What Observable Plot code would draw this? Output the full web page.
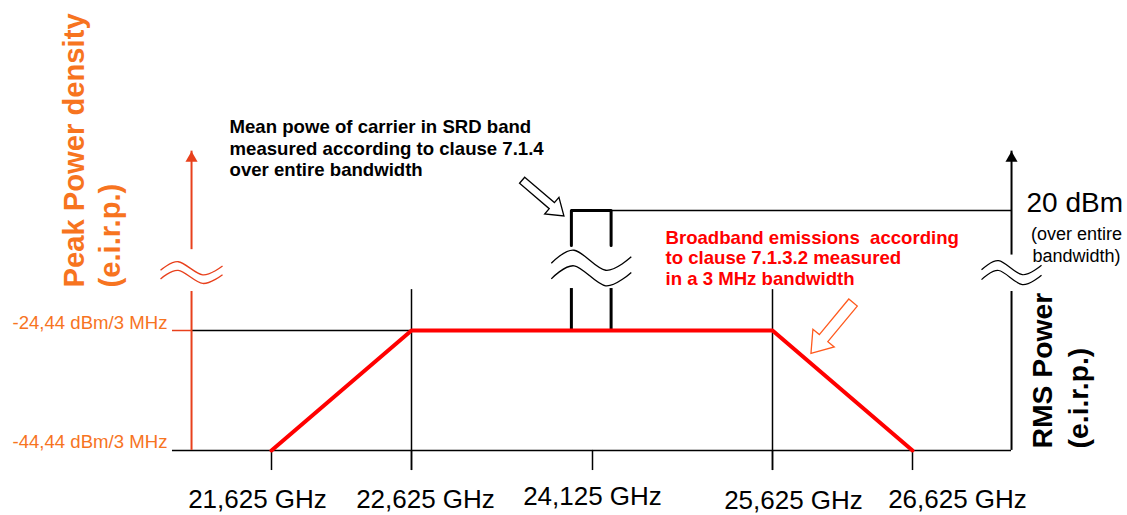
<!DOCTYPE html>
<html><head><meta charset="utf-8">
<script src="https://cdn.jsdelivr.net/npm/d3@7"></script>
<script src="https://cdn.jsdelivr.net/npm/@observablehq/plot@0.6"></script>
<style>html,body{margin:0;padding:0;background:#fff;} #chart svg{display:block}</style>
</head><body><div id="chart"></div>
<script>
// ---- data ----
const FREQ_TICKS = [21.625, 22.625, 24.125, 25.625, 26.625];
const FREQ_LABELS = ["21,625 GHz", "22,625 GHz", "24,125 GHz", "25,625 GHz", "26,625 GHz"];
const LEVEL_TICKS = [-44.44, -24.44];
const LEVEL_LABELS = ["-44,44 dBm/3 MHz", "-24,44 dBm/3 MHz"];
const EMISSION_F = [21.625, 22.625, 25.625, 26.625];
const EMISSION_LEVEL = [-44.44, -24.44, -24.44, -44.44];
const CARRIER_F = [23.95, 24.28];
const CARRIER_LEVEL = 20;
const CARRIER_LABEL = "20 dBm";
const CARRIER_NOTE = "(over entire\nbandwidth)";
const LEFT_TITLE = "Peak Power density\n(e.i.r.p.)";
const RIGHT_TITLE = "RMS Power\n(e.i.r.p.)";
const NOTE_CARRIER = "Mean powe of carrier in SRD band\nmeasured according to clause 7.1.4\nover entire bandwidth";
const NOTE_EMISSION = "Broadband emissions  according\nto clause 7.1.3.2 measured\nin a 3 MHz bandwidth";

// ---- schematic layout (data units) ----
const AXIS_L = 21.054, AXIS_R = 27.332, BASE_L = 20.918;
const BREAK_LO = -10, BREAK_HI_L = 5.5, BREAK_HI_R = 3.5, TOP = 42;
const TICK_BOTTOM = -47.8, GUIDE_TOP = -9.3;
const BOX_BREAK_LO = -8.9, BOX_BREAK_HI = 7;
const ORANGE_AXIS = "#e8401c", ORANGE_TEXT = "#f7741f", RED = "#ff0000", ARROW_ORANGE = "#ff5a1e";
const FONT = "'Liberation Sans', Arial, sans-serif";
const LOW = LEVEL_TICKS[0], HIGH = LEVEL_TICKS[1];

function waveSymbol(amp, gap) {
  const base = [[-1, 0.15], [-0.43, -0.5], [0.36, 0.5], [1, -0.17]];
  return {draw(ctx, size) {
    const r = Math.sqrt(size / Math.PI);
    for (const k of [-1, 1]) {
      const pts = base.map(([x, y]) => [x * r, (y * amp + k * gap / 2) * r]);
      d3.line().curve(d3.curveCardinal).context(ctx)(pts);
    }
  }};
}
function blockArrow(sw, hw, hl) {
  return {draw(ctx, size) {
    const r = Math.sqrt(size / Math.PI);
    const b = -r + hl * r;
    ctx.moveTo(-sw * r, r); ctx.lineTo(-sw * r, b); ctx.lineTo(-hw * r, b);
    ctx.lineTo(0, -r); ctx.lineTo(hw * r, b); ctx.lineTo(sw * r, b);
    ctx.lineTo(sw * r, r); ctx.closePath();
  }};
}

const emission = EMISSION_F.map((f, i) => ({f, level: EMISSION_LEVEL[i]}));
const [c1, c2] = CARRIER_F;
const one = [0];
const txt = {fontFamily: FONT};

const labelDx = [-14, 14, 0, 21, 45];
const labelDy = [58, 58, 55, 59, 58];

const marks = [
  // baseline and level lines
  Plot.ruleY([LOW], {x1: BASE_L, x2: AXIS_R, stroke: "black", strokeWidth: 1.5}),
  Plot.ruleY([HIGH], {x1: BASE_L, x2: AXIS_L, stroke: ORANGE_AXIS, strokeWidth: 1.5}),
  Plot.ruleY([HIGH], {x1: AXIS_L, x2: EMISSION_F[1], stroke: "black", strokeWidth: 1.5}),
  // frequency ticks
  Plot.ruleX(FREQ_TICKS, {y1: LOW, y2: TICK_BOTTOM, stroke: "black", strokeWidth: 1.5}),
  Plot.ruleX([EMISSION_F[1], EMISSION_F[2]], {y1: TICK_BOTTOM, y2: GUIDE_TOP, stroke: "black", strokeWidth: 1.5}),
  // left axis
  Plot.ruleX([AXIS_L], {y1: LOW, y2: BREAK_LO, stroke: ORANGE_AXIS, strokeWidth: 2}),
  Plot.ruleX([AXIS_L], {y1: BREAK_HI_L, y2: TOP, stroke: ORANGE_AXIS, strokeWidth: 2}),
  Plot.dot(one, {x: () => AXIS_L, y: () => TOP, dy: 7, r: 4.5, symbol: "triangle", fill: ORANGE_AXIS, stroke: "none"}),
  Plot.dot(one, {x: () => AXIS_L, y: () => -3, r: 31, symbol: waveSymbol(0.42, 0.28), fill: "none", stroke: ORANGE_AXIS, strokeWidth: 1.3}),
  // right axis
  Plot.ruleX([AXIS_R], {y1: LOW, y2: BREAK_LO, stroke: "black", strokeWidth: 2}),
  Plot.ruleX([AXIS_R], {y1: BREAK_HI_R, y2: TOP, stroke: "black", strokeWidth: 2}),
  Plot.dot(one, {x: () => AXIS_R, y: () => TOP, dy: 7, r: 4.5, symbol: "triangle", fill: "black", stroke: "none"}),
  Plot.dot(one, {x: () => AXIS_R, y: () => -3, r: 30, symbol: waveSymbol(0.47, 0.33), fill: "none", stroke: "black", strokeWidth: 1.2}),
  // carrier
  Plot.ruleY([CARRIER_LEVEL], {x1: c2, x2: AXIS_R, stroke: "black", strokeWidth: 1.6}),
  Plot.line([[c1, BOX_BREAK_HI], [c1, CARRIER_LEVEL], [c2, CARRIER_LEVEL], [c2, BOX_BREAK_HI]], {stroke: "black", strokeWidth: 3}),
  Plot.ruleX(CARRIER_F, {y1: HIGH, y2: BOX_BREAK_LO, stroke: "black", strokeWidth: 3}),
  Plot.dot(one, {x: () => (c1 + c2) / 2, y: () => -1.3, r: 40, symbol: waveSymbol(0.5, 0.39), fill: "none", stroke: "black", strokeWidth: 1.3}),
  // emission mask
  Plot.line(emission, {x: "f", y: "level", stroke: RED, strokeWidth: 4}),
  // block arrows
  Plot.dot(one, {x: () => 23.715, y: () => 24.6, r: 27.5, rotate: 130.5, symbol: blockArrow(0.145, 0.4, 0.58), fill: "white", stroke: "black", strokeWidth: 1.3}),
  Plot.dot(one, {x: () => 26.05, y: () => -23.5, r: 33, rotate: 219.6, symbol: blockArrow(0.167, 0.42, 0.6), fill: "white", stroke: ARROW_ORANGE, strokeWidth: 1.3}),
  // frequency labels
  ...FREQ_TICKS.map((v, i) => Plot.text([FREQ_LABELS[i]], {x: () => v, y: () => LOW, text: d => d, dx: labelDx[i], dy: labelDy[i], lineAnchor: "bottom", textAnchor: "middle", fontSize: 26, fill: "black", ...txt})),
  // level labels
  Plot.text(LEVEL_TICKS, {x: () => BASE_L, y: d => d, text: (d, i) => LEVEL_LABELS[i], textAnchor: "end", lineAnchor: "bottom", dx: -5, dy: -2, fontSize: 18.6, fill: ORANGE_TEXT, ...txt}),
  // axis titles
  Plot.text([LEFT_TITLE], {x: () => AXIS_L, y: () => HIGH, text: d => d, rotate: -90, textAnchor: "start", lineAnchor: "bottom", lineHeight: 1.21, dx: -72, dy: -43, fontSize: 29.2, fontWeight: "bold", fill: ORANGE_TEXT, ...txt}),
  Plot.text([RIGHT_TITLE], {x: () => AXIS_R, y: () => LOW, text: d => d, rotate: -90, textAnchor: "start", lineAnchor: "bottom", lineHeight: 1.25, dx: 76, dy: -2, fontSize: 28.3, fontWeight: "bold", fill: "black", ...txt}),
  // carrier labels
  Plot.text([CARRIER_LABEL], {x: () => AXIS_R, y: () => CARRIER_LEVEL, text: d => d, textAnchor: "start", lineAnchor: "bottom", dx: 15, dy: 1, fontSize: 28, fill: "black", ...txt}),
  Plot.text([CARRIER_NOTE], {x: () => AXIS_R, y: () => CARRIER_LEVEL, text: d => d, textAnchor: "middle", lineAnchor: "bottom", lineHeight: 1.17, dx: 65, dy: 51, fontSize: 18, fill: "black", ...txt}),
  // notes
  Plot.text([NOTE_CARRIER], {x: () => AXIS_L, y: () => CARRIER_LEVEL, text: d => d, textAnchor: "start", lineAnchor: "bottom", lineHeight: 1.13, dx: 38, dy: -35, fontSize: 18.6, fontWeight: "bold", fill: "black", ...txt}),
  Plot.text([NOTE_EMISSION], {x: () => FREQ_TICKS[2], y: () => HIGH, text: d => d, textAnchor: "start", lineAnchor: "bottom", lineHeight: 1.1, dx: 73, dy: -46, fontSize: 18.6, fontWeight: "bold", fill: RED, ...txt})
];

const chart = Plot.plot({
  width: 1127, height: 515,
  marginTop: 0, marginRight: 0, marginBottom: 0, marginLeft: 0,
  style: {background: "white", fontFamily: FONT},
  x: {type: "linear", domain: [19.69, 21.625, 22.625, 24.125, 25.625, 26.625, 28.16], range: [0, 271, 411, 592, 772, 912, 1127], axis: null},
  y: {type: "linear", domain: [-55.3, -24.44, 97.8], range: [515, 330, 0], axis: null},
  marks
});
document.getElementById("chart").appendChild(chart);
</script></body></html>
